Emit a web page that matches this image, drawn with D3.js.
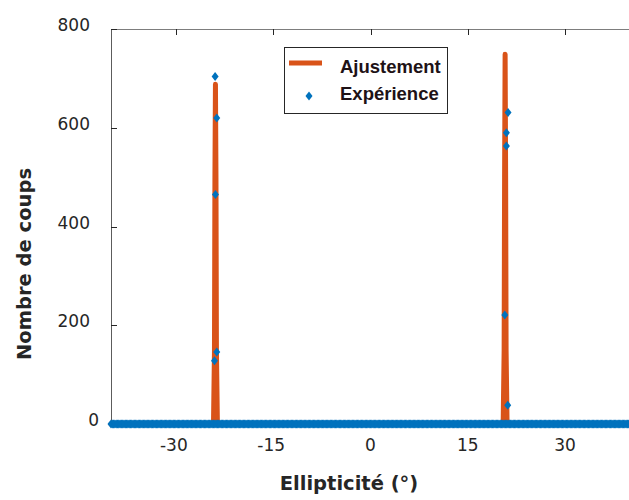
<!DOCTYPE html>
<html><head><meta charset="utf-8">
<script src="https://cdn.jsdelivr.net/npm/d3@7"></script>
<style>body{margin:0;background:#fff}svg{display:block}</style>
</head><body>
<script>
// Data
const xTicks = [-30, -15, 0, 15, 30];
const yTicks = [0, 200, 400, 600, 800];
// Fitted curve (Ajustement): key points of the two narrow peaks
const fitX = [-40, -24.2, -24.05, -23.98, -23.9, -23.82, -23.75, -23.6, 20.45, 20.6, 20.67, 20.75, 20.83, 20.9, 21.05, 40];
const fitY = [0, 0, 150, 500, 688, 500, 150, 0, 0, 150, 500, 749, 500, 150, 0, 0];
// Experimental points (Expérience): non-zero counts
const expX = [-23.95, -23.7, -23.9, -23.7, -24.05, 21.2, 20.95, 20.95, 20.7, 21.15];
const expY = [704, 620, 465, 146, 128, 631, 590, 563, 221, 38];
// Zero-count measurements sampled along the full range
const zeroStart = -40, zeroEnd = 40, zeroStep = 0.2;
const legendLabels = ["Ajustement", "Expérience"];
const xLabel = "Ellipticité (°)";
const yLabel = "Nombre de coups";

const W = 629, H = 500;
const axisFont = "'DejaVu Sans', Verdana, sans-serif";
const legFont = "'Liberation Sans', Arial, Helvetica, sans-serif";
const svg = d3.select("body").append("svg").attr("width", W).attr("height", H);
const x = d3.scaleLinear().domain([-40, 40]).range([111, 630]);
const y = d3.scaleLinear().domain([0, 800]).range([424, 29]);

const orange = "#D95319", blue = "#0072BD", axc = "#262626";

// frame (top + left), right edge lies off-canvas
svg.append("line").attr("x1", 111).attr("x2", 630).attr("y1", 29.5).attr("y2", 29.5).attr("stroke", axc).attr("stroke-opacity", 0.6);
svg.append("line").attr("x1", 111.5).attr("x2", 111.5).attr("y1", 29).attr("y2", 424).attr("stroke", axc).attr("stroke-opacity", 0.75);

// top ticks
svg.selectAll(".tt").data(xTicks).enter().append("line")
  .attr("x1", d => Math.round(x(d)) + 0.5).attr("x2", d => Math.round(x(d)) + 0.5)
  .attr("y1", 29).attr("y2", 35).attr("stroke", axc);
// left ticks
svg.selectAll(".lt").data(yTicks).enter().append("line")
  .attr("x1", 111).attr("x2", 117)
  .attr("y1", d => Math.round(y(d)) + 0.5).attr("y2", d => Math.round(y(d)) + 0.5).attr("stroke", axc);

// tick labels
svg.selectAll(".xl").data(xTicks).enter().append("text")
  .attr("x", d => x(d) - (d < 0 ? 2 : 0)).attr("y", 451).attr("text-anchor", "middle")
  .attr("font-family", axisFont).attr("font-size", 17).attr("fill", axc).text(d => d);
svg.selectAll(".yl").data(yTicks).enter().append("text")
  .attr("x", d => d === 0 ? 99 : 90).attr("y", d => y(d) + 2).attr("text-anchor", "end")
  .attr("font-family", axisFont).attr("font-size", 17).attr("fill", axc).text(d => d);

// axis labels
svg.append("text").attr("x", 349).attr("y", 490).attr("text-anchor", "middle")
  .attr("font-family", axisFont).attr("font-size", 19.5).attr("font-weight", "bold").attr("fill", axc).text(xLabel);
svg.append("text").attr("transform", "translate(31,264) rotate(-90)").attr("text-anchor", "middle")
  .attr("font-family", axisFont).attr("font-size", 19.5).attr("font-weight", "bold").attr("fill", axc).text(yLabel);

// fit line
const fit = fitX.map((v, i) => [v, fitY[i]]);
svg.append("path").datum(fit)
  .attr("d", d3.line().x(d => x(d[0])).y(d => y(d[1])))
  .attr("fill", "none").attr("stroke", orange).attr("stroke-width", 5)
  .attr("stroke-linejoin", "round").attr("stroke-linecap", "round");

// experiment points
const diamond = "M0,-4.5L3.5,0L0,4.5L-3.5,0Z";
const zeros = d3.range(zeroStart, zeroEnd + 1e-9, zeroStep).map(v => [v, 0]);
const pts = zeros.concat(expX.map((v, i) => [v, expY[i]]));
svg.append("g").selectAll("path").data(pts).enter().append("path")
  .attr("d", diamond).attr("transform", d => `translate(${x(d[0])},${y(d[1])})`)
  .attr("fill", blue);

// legend
const lg = svg.append("g");
lg.append("rect").attr("x", 284.5).attr("y", 47.5).attr("width", 163).attr("height", 66)
  .attr("fill", "#fff").attr("stroke", axc).attr("stroke-width", 1);
lg.append("line").attr("x1", 289).attr("x2", 322).attr("y1", 63).attr("y2", 63)
  .attr("stroke", orange).attr("stroke-width", 5);
lg.append("path").attr("d", diamond).attr("transform", "translate(309,96)").attr("fill", blue);
lg.selectAll("text").data(legendLabels).enter().append("text")
  .attr("x", 340).attr("y", (d, i) => 73 + i * 27)
  .attr("font-family", legFont).attr("font-size", 18.5).attr("font-weight", "bold").attr("fill", "#1e1216").text(d => d);
</script>
</body></html>
